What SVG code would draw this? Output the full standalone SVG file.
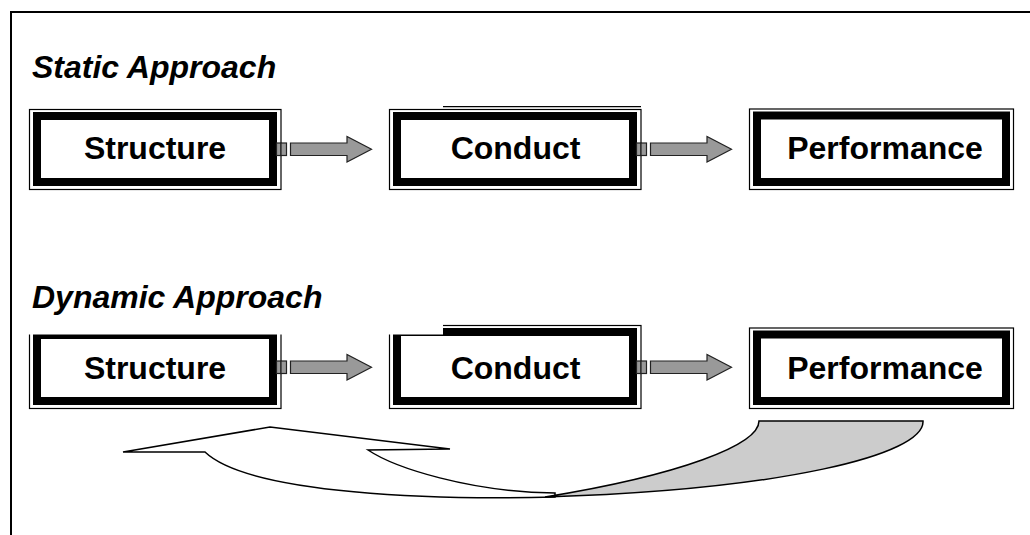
<svg xmlns="http://www.w3.org/2000/svg" width="1030" height="535" viewBox="0 0 1030 535">
  <style>
    .outer{fill:#fff;stroke:#000;stroke-width:1.2}
    .thick{fill:#fff;stroke:#000;stroke-width:8}
    .lbl{font-family:"Liberation Sans",Arial,Helvetica,sans-serif;font-weight:bold;font-size:32px;fill:#000;text-anchor:middle}
    .title{font-family:"Liberation Sans",Arial,Helvetica,sans-serif;font-weight:bold;font-style:italic;font-size:32px;fill:#000}
    .arr{fill:#999;stroke:#222;stroke-width:1.2;stroke-linejoin:miter}
    .thin{stroke:#000;stroke-width:1.2;fill:none}
  </style>
  <defs>
    <g id="arrowShape">
      <rect class="arr" x="276.5" y="143" width="4.5" height="12.5"/>
      <rect class="arr" x="281" y="143" width="5.5" height="12.5"/>
      <path class="arr" d="M290.5,143 L347,143 L347,136.5 L371.5,149.3 L347,162 L347,155.5 L290.5,155.5 Z"/>
    </g>
  </defs>
  <rect x="11" y="12" width="1100" height="1000" fill="#fff" stroke="#000" stroke-width="2"/>

  <text class="title" x="32" y="78">Static Approach</text>

  <g id="static-structure">
    <rect class="outer" x="29.5" y="109.5" width="251.5" height="80"/>
    <rect class="thick" x="37" y="116" width="236" height="66"/>
    <text class="lbl" x="155" y="158.5">Structure</text>
  </g>
  <g id="static-conduct">
    <line class="thin" x1="443" y1="106.7" x2="641" y2="106.7"/>
    <rect class="outer" x="389.5" y="109.5" width="251.5" height="80"/>
    <rect class="thick" x="397" y="116" width="236" height="66"/>
    <text class="lbl" x="515.5" y="158.5">Conduct</text>
  </g>
  <g id="static-performance">
    <rect class="outer" x="749.5" y="109" width="264" height="80.5"/>
    <rect class="thick" x="757" y="115.5" width="249" height="66.5"/>
    <text class="lbl" x="885" y="158.5">Performance</text>
  </g>

  <g id="dynamic-structure">
    <rect class="outer" x="29.5" y="328.5" width="251.5" height="80"/>
    <rect class="thick" x="37" y="335" width="236" height="66"/>
    <text class="lbl" x="155" y="378.5">Structure</text>
  </g>
  <g id="dynamic-conduct">
    <line class="thin" x1="443" y1="325.5" x2="641" y2="325.5"/>
    <rect class="outer" x="389.5" y="325.5" width="251.5" height="83"/>
    <rect class="thick" x="397" y="332" width="236" height="69"/>
    <text class="lbl" x="515.5" y="378.5">Conduct</text>
  </g>
  <g id="dynamic-performance">
    <rect class="outer" x="749.5" y="328" width="264" height="80.5"/>
    <rect class="thick" x="757" y="334.5" width="249" height="66.5"/>
    <text class="lbl" x="885" y="378.5">Performance</text>
  </g>

  <rect x="13" y="285" width="430" height="49.5" fill="#fff"/>
  <text class="title" x="32" y="308">Dynamic Approach</text>

  <g id="connectors">
    <use href="#arrowShape"/>
    <use href="#arrowShape" transform="translate(360,0)"/>
    <use href="#arrowShape" transform="translate(0,218)"/>
    <use href="#arrowShape" transform="translate(360,218)"/>
    <g id="feedback">
      <path d="M123,452 L270,427 L450,449 L368,450 C395,468 470,492 555,493 L555,497 C440,500 250,495 205,452 Z" fill="#fff" stroke="#000" stroke-width="1.5" stroke-linejoin="miter"/>
      <path d="M759,421 L923,421 C925,455 780,490 545,497 C680,475 759,445 759,421 Z" fill="#ccc" stroke="#000" stroke-width="1.5"/>
    </g>
  </g>
</svg>
